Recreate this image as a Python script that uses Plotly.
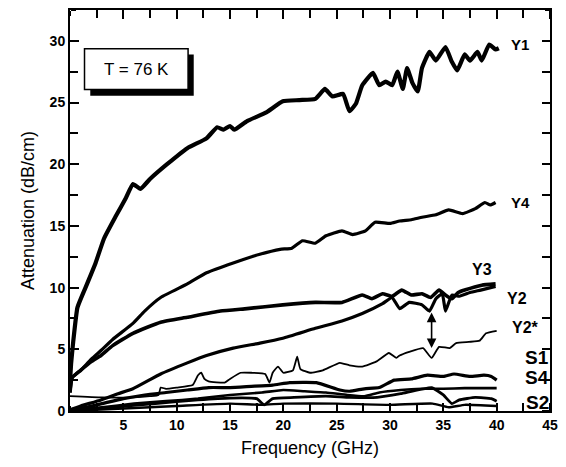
import plotly.graph_objects as go

# ---------------- data ----------------
y1_f = [0, 0.1, 0.3, 0.7, 1.6, 2.4, 3.2, 4.3, 5.2, 5.9, 6.6, 7.5, 9.1, 11, 12.8, 13.8, 14.4, 15, 15.4, 16.6, 18.4, 19.95,
        21.5, 23, 23.9, 24.6, 25.6, 26.2, 26.8, 27.4, 28.4, 29, 29.6, 30.2, 30.7, 31.2, 31.6, 32.1, 32.6, 33, 33.7,
        34.3, 35.2, 35.8, 36.3, 37, 37.5, 38.2, 38.6, 39.3, 39.9, 40.2]
y1_a = [2.4, 3.8, 5.6, 8.4, 10.3, 12.0, 14.0, 15.8, 17.2, 18.4, 18.0, 18.8, 20.0, 21.3, 22.1, 23.0, 22.8, 23.1, 22.8,
        23.5, 24.2, 25.1, 25.2, 25.3, 26.1, 25.5, 25.7, 24.3, 24.9, 26.4, 27.4, 26.4, 26.7, 26.4, 27.5, 26.1, 27.8,
        26.6, 25.9, 27.8, 29.1, 28.4, 29.5, 28.3, 27.6, 28.9, 28.4, 29.1, 28.4, 29.7, 29.3, 29.4]

y4_f = [0, 0.2, 1, 2, 2.9, 4, 5.9, 7, 8.5, 11, 12.8, 15.3, 17.8, 19.7, 20.8, 21.8, 23, 24, 25.5, 26.5, 27.7, 28.6,
        30, 30.9, 32, 33, 34.3, 35.5, 36.8, 38, 38.9, 39.4, 39.9]
y4_a = [1.5, 2.7, 3.3, 4.2, 4.9, 5.8, 7.1, 8.1, 9.2, 10.3, 11.2, 12.0, 12.7, 13.1, 13.2, 13.8, 13.6, 14.2, 14.6, 14.3,
        14.6, 15.3, 15.2, 15.4, 15.5, 15.7, 15.9, 16.3, 16.0, 16.4, 16.9, 16.7, 16.9]

y3_f = [0, 0.2, 1, 2, 2.9, 4, 5.9, 8.5, 11, 14.1, 16.6, 19.95, 23, 25.5, 27.4, 28.3, 29.3, 30.2, 31.1, 32, 33, 33.8,
        34.6, 35.2, 35.8, 36.4, 37, 38.6, 39.9]
y3_a = [1.5, 2.7, 3.3, 4.0, 4.5, 5.3, 6.3, 7.2, 7.6, 8.1, 8.3, 8.6, 8.8, 8.8, 9.4, 9.1, 9.5, 9.3, 9.8, 9.4, 9.5, 9.2,
        9.8, 9.4, 9.1, 9.6, 9.8, 10.2, 10.3]

y2_f = [0, 1, 2.9, 4.5, 5.9, 8.5, 11, 12.8, 15.3, 17.8, 19.95, 23, 25.5, 27.4, 29.3, 30.2, 30.9, 31.8, 33, 33.7,
        34.3, 34.9, 35.2, 35.8, 36.5, 37.5, 38.5, 39.9]
y2_a = [0.1, 0.4, 0.9, 1.4, 1.8, 3.0, 3.9, 4.5, 5.1, 5.5, 5.9, 6.7, 7.3, 7.9, 8.7, 9.2, 8.3, 8.8, 8.6, 8.1, 9.1, 9.5,
        8.1, 9.4, 9.3, 9.6, 9.8, 10.1]

y2s_f = [0, 3, 6, 7.5, 8.3, 8.5, 9, 10, 11.5, 12.0, 12.3, 12.6, 13, 14.5, 15, 16, 17, 18.3, 18.7, 19.0, 19.5, 20,
         20.9, 21.3, 21.6, 22.5, 23.7, 25.3, 26.2, 27.4, 28.7, 29.9, 30.6, 30.9, 31.8, 33.1, 33.9, 34.6, 35.6, 36.2,
         37.4, 38.4, 39, 40]
y2s_a = [1.2, 1.1, 1.1, 1.2, 1.3, 1.9, 1.8, 1.9, 2.1, 2.9, 3.1, 2.6, 2.4, 2.3, 2.6, 3.1, 3.1, 3.0, 2.3, 3.1, 3.6, 3.1,
         3.3, 4.4, 3.4, 3.1, 3.3, 3.9, 3.7, 3.6, 4.0, 4.7, 4.3, 4.5, 4.8, 5.1, 4.3, 5.2, 5.1, 5.5, 5.6, 5.7, 6.3, 6.5]

s1_f = [0, 1.5, 3, 5, 7, 9, 11, 13, 15, 17, 19, 20.6, 23.1, 25.3, 26.2, 27.6, 29, 30.4, 32, 33.5, 35, 36, 37.5, 38.8,
        39.5, 40]
s1_a = [0.1, 0.3, 0.6, 1.0, 1.3, 1.5, 1.7, 1.9, 1.9, 2.0, 2.1, 2.3, 2.3, 1.7, 1.6, 1.8, 1.9, 2.5, 2.6, 2.9, 2.8, 3.0,
        2.8, 2.9, 2.8, 2.5]

s4_f = [0, 3, 6, 9, 12, 15, 18, 20, 22, 24, 26, 27.6, 29, 31, 33, 35, 37, 39, 40]
s4_a = [0.05, 0.3, 0.6, 0.8, 1.0, 1.3, 1.5, 1.7, 1.6, 1.5, 1.3, 1.2, 1.5, 1.7, 1.8, 1.8, 1.85, 1.85, 1.85]

s2_f = [0, 4, 8, 12, 15, 17.5, 18.2, 19, 21, 24, 26.2, 28.8, 31, 33.9, 35, 35.8, 36.5, 38, 39.5, 40]
s2_a = [0.05, 0.3, 0.6, 0.9, 1.05, 1.0, 0.5, 1.0, 1.1, 1.2, 1.1, 1.1, 1.4, 1.9, 1.3, 0.6, 0.9, 1.1, 1.0, 0.8]

s3_f = [0, 5, 10, 15, 18, 20, 25, 30, 34, 35.5, 37, 40]
s3_a = [0.0, 0.2, 0.4, 0.6, 0.5, 0.6, 0.6, 0.5, 0.6, 0.3, 0.5, 0.4]

x_ticks = [5, 10, 15, 20, 25, 30, 35, 40, 45]
y_ticks = [0, 5, 10, 15, 20, 25, 30]

series = [
    ("Y1", y1_f, y1_a, 4.2),
    ("Y4", y4_f, y4_a, 3.2),
    ("Y3", y3_f, y3_a, 3.6),
    ("Y2", y2_f, y2_a, 3.2),
    ("Y2*", y2s_f, y2s_a, 1.8),
    ("S1", s1_f, s1_a, 3.2),
    ("S4", s4_f, s4_a, 2.6),
    ("S2", s2_f, s2_a, 2.8),
    ("S3", s3_f, s3_a, 2.4),
]

labels = [("Y1", 42.2, 29.7, 15), ("Y4", 42.2, 16.9, 15), ("Y3", 38.6, 11.5, 16), ("Y2", 41.9, 9.1, 16),
          ("Y2*", 42.7, 6.8, 16), ("S1", 43.8, 4.3, 19), ("S4", 43.8, 2.7, 19), ("S2", 43.8, 0.7, 19)]

FONT = "Liberation Sans"
X_RANGE = [0, 45]
Y_RANGE = [0, 32.5]

fig = go.Figure()
for name, f, a, w in series:
    fig.add_trace(go.Scatter(x=f, y=a, mode="lines", name=name,
                             line=dict(color="black", width=w, shape="spline", smoothing=0.4),
                             showlegend=False, hoverinfo="skip"))

# empty traces that activate the tick-only frame axes
for xa, ya in (("x2", "y"), ("x3", "y"), ("x", "y2"), ("x", "y3")):
    fig.add_trace(go.Scatter(x=[], y=[], xaxis=xa, yaxis=ya, mode="lines", showlegend=False, hoverinfo="skip"))

for text, fx, fy, sz in labels:
    fig.add_annotation(x=fx, y=fy, xref="x", yref="y", text="<b>" + text + "</b>", showarrow=False,
                       font=dict(family=FONT, size=sz, color="black"))

# double-headed arrow between Y2 and Y2*
fig.add_annotation(x=33.9, y=5.1, ax=33.9, ay=8.1, xref="x", yref="y", axref="x", ayref="y",
                   text="", showarrow=True, arrowhead=2, startarrowhead=2, arrowside="end+start",
                   arrowsize=1.2, arrowwidth=1.6, arrowcolor="black")

# temperature box with drop shadow
fig.add_shape(type="rect", xref="x", yref="y", x0=1.9, x1=11.6, y0=25.55, y1=28.9,
              line=dict(color="black", width=0), fillcolor="black")
fig.add_shape(type="rect", xref="x", yref="y", x0=1.36, x1=11.07, y0=26.05, y1=29.35,
              line=dict(color="black", width=1.5), fillcolor="white")
fig.add_annotation(x=6.2, y=27.7, xref="x", yref="y", text="T = 76 K", showarrow=False,
                   font=dict(family=FONT, size=17, color="black"))

minor_in = dict(ticks="inside", ticklen=5, tickwidth=1.5, tickcolor="black", dtick=2.5, tick0=0, showgrid=False)
minor_out = dict(ticks="outside", ticklen=5, tickwidth=1.5, tickcolor="black", dtick=2.5, tick0=0, showgrid=False)

# tick-only axes: an axis placed on the opposite edge with outside ticks points them into the plot
tick_axis = dict(showline=False, ticks="outside", ticklen=8, tickwidth=2, tickcolor="black",
                 showticklabels=False, showgrid=False, zeroline=False, tickmode="array", minor=minor_out)

main_axis = dict(showline=True, linecolor="black", linewidth=2, mirror="allticks", ticks="inside",
                 ticklen=8, tickwidth=2, tickcolor="black", showgrid=False, zeroline=False,
                 tickfont=dict(family=FONT, size=14, color="black"), tickmode="array", minor=minor_in,
                 layer="above traces")

fig.update_layout(
    xaxis=dict(range=X_RANGE, tickvals=x_ticks, ticktext=["<b>" + str(v) + "</b>" for v in x_ticks],
               title=dict(text="Frequency (GHz)", font=dict(family=FONT, size=18, color="black"), standoff=10),
               **main_axis),
    yaxis=dict(range=Y_RANGE, tickvals=y_ticks, ticktext=["<b>" + str(v) + "</b>" for v in y_ticks],
               title=dict(text="Attenuation (dB/cm)", font=dict(family=FONT, size=18, color="black"), standoff=10),
               **main_axis),
    xaxis2=dict(range=X_RANGE, overlaying="x", side="top", anchor="free", position=0, tickvals=x_ticks,
                **tick_axis),
    xaxis3=dict(range=X_RANGE, overlaying="x", side="bottom", anchor="free", position=1, tickvals=x_ticks,
                **tick_axis),
    yaxis2=dict(range=Y_RANGE, overlaying="y", side="right", anchor="free", position=0, tickvals=y_ticks,
                **tick_axis),
    yaxis3=dict(range=Y_RANGE, overlaying="y", side="left", anchor="free", position=1, tickvals=y_ticks,
                **tick_axis),
    width=566, height=467, margin=dict(l=70, r=15, t=8, b=56),
    plot_bgcolor="white", paper_bgcolor="white", showlegend=False,
)

fig.write_html("out.html", config={"displayModeBar": False},
               post_script="document.body.style.margin='0';document.body.style.overflow='hidden';")
